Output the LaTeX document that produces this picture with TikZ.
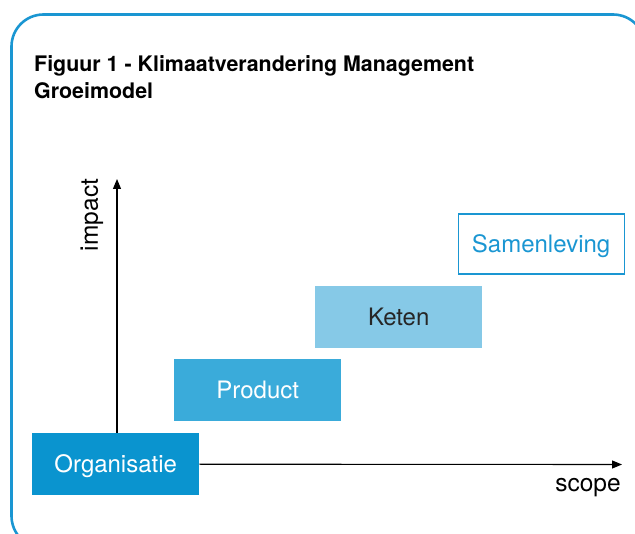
\documentclass[tikz,border=0pt]{standalone}
\usepackage{fontspec}
\setmainfont{TeX Gyre Heros}
\usetikzlibrary{arrows.meta}
\definecolor{frameblue}{HTML}{1A96D2}
\definecolor{orgblue}{HTML}{0A94CF}
\definecolor{prodblue}{HTML}{3AABDA}
\definecolor{ketenblue}{HTML}{86C9E7}
\tikzset{
  stage/.style={minimum width=167pt, minimum height=62pt, inner sep=0pt, font=\fontsize{24}{28}\selectfont, text height=19.5pt, text depth=3pt, anchor=north west},
  axis/.style={line width=1.1pt, -{Triangle[length=10pt,width=8pt]}},
  axislabel/.style={font=\fontsize{24.5}{28}\selectfont, inner sep=0pt},
}
\begin{document}
\begin{tikzpicture}[x=1pt,y=-1pt]
\useasboundingbox (0,0) rectangle (635,534);
\clip (0,0) rectangle (635,534);
\draw[frameblue, line width=2.6pt, rounded corners=32pt] (11.5,14.5) rectangle (645,548);
\node[anchor=north west, align=left, font=\bfseries\fontsize{21.4}{27}\selectfont, inner sep=0pt] (title) at (34,55)
  {Figuur 1 - Klimaatverandering Management\\Groeimodel};
\node[stage, fill=orgblue, text=white] (org) at (32,433) {Organisatie};
\node[stage, fill=prodblue, text=white] (prod) at (174,359) {Product};
\node[stage, fill=ketenblue, text=black!85] (keten) at (315,286) {Keten};
\node[stage, draw=frameblue, line width=1.2pt, text=frameblue, minimum width=166pt, minimum height=60pt] (samen) at (457.5,213.5) {Samenleving};
\coordinate (ytip) at (117,179);
\coordinate (xtip) at (622,464.5);
\draw[axis] (org.north -| ytip) -- (ytip);
\draw[axis] (org.east) -- (xtip);
\node[rotate=90, axislabel] (impact) at (92,215) {impact};
\node[axislabel] (scope) at (588,488) {scope};
\end{tikzpicture}
\end{document}
